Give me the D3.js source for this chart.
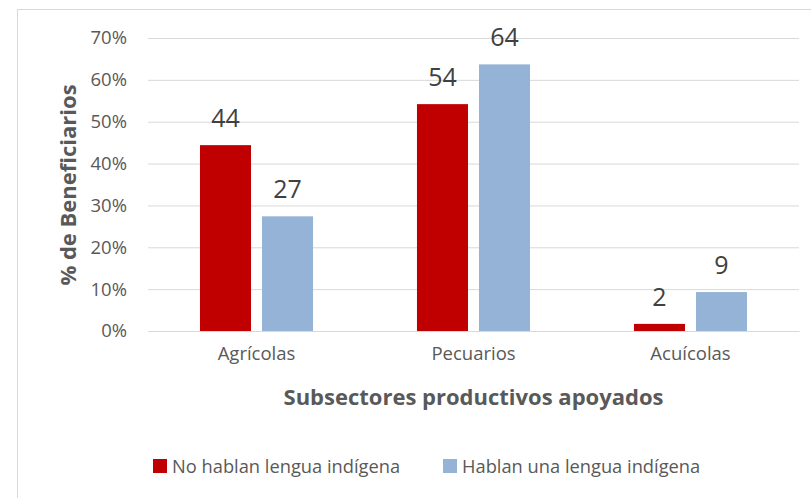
<html>
<head>
  <meta charset="UTF-8">
  <title>Subsectores productivos apoyados</title>
  <script src="https://cdn.jsdelivr.net/npm/d3@7"></script>
  <style>
    body { margin: 0; background: #fff; }
    text { font-family: "Open Sans", sans-serif; }
  </style>
</head>
<body>
  <div id="chart"></div>
  <script>
  // data
  var categories = ["Agrícolas", "Pecuarios", "Acuícolas"];
  var series = ["No hablan lengua indígena", "Hablan una lengua indígena"];
  var noHablan = [44.4, 54.2, 1.7];
  var hablan = [27.4, 63.7, 9.3];
  var yTicks = [0, 10, 20, 30, 40, 50, 60, 70];
  var colors = ["#C00000", "#95B3D7"];

  var W = 811, H = 498;
  var plotL = 148, plotR = 799, plotT = 38, plotB = 331;

  var svg = d3.select("#chart").append("svg")
    .attr("width", W).attr("height", H);

  // chart frame
  svg.append("rect")
    .attr("x", 17.5).attr("y", 9.5)
    .attr("width", W).attr("height", H)
    .attr("fill", "none").attr("stroke", "#D9D9D9");

  var y = d3.scaleLinear().domain([0, 70]).range([plotB, plotT]);
  var x0 = d3.scaleBand().domain(categories).range([plotL, plotR])
    .paddingInner(0.479).paddingOuter(0.2395);
  var x1 = d3.scaleBand().domain(series).range([0, x0.bandwidth()])
    .paddingInner(0.1774);

  // y axis with gridlines
  var yAxis = svg.append("g")
    .attr("transform", "translate(" + plotL + ",0)")
    .call(d3.axisLeft(y).tickValues(yTicks)
      .tickSize(-(plotR - plotL)).tickPadding(21)
      .tickFormat(function (d) { return d + "%"; }));
  yAxis.select(".domain").remove();
  yAxis.selectAll("line").attr("stroke", "#D9D9D9");
  yAxis.selectAll("text")
    .attr("fill", "#595959").style("font-size", "18.5px")
    .style("font-family", "'Open Sans', sans-serif");

  // bars
  var rows = categories.map(function (c, i) {
    return { cat: c, vals: [noHablan[i], hablan[i]] };
  });
  var groups = svg.selectAll(".grp").data(rows).enter().append("g")
    .attr("class", "grp")
    .attr("transform", function (d) { return "translate(" + x0(d.cat) + ",0)"; });

  groups.selectAll("rect").data(function (d) {
      return d.vals.map(function (v, j) { return { s: series[j], v: v, j: j }; });
    }).enter().append("rect")
    .attr("x", function (d) { return x1(d.s); })
    .attr("y", function (d) { return y(d.v); })
    .attr("width", x1.bandwidth())
    .attr("height", function (d) { return plotB - y(d.v); })
    .attr("fill", function (d) { return colors[d.j]; });

  groups.selectAll(".lbl").data(function (d) {
      return d.vals.map(function (v, j) { return { s: series[j], v: v }; });
    }).enter().append("text")
    .attr("class", "lbl")
    .attr("x", function (d) { return x1(d.s) + x1.bandwidth() / 2; })
    .attr("y", function (d) { return y(d.v) - 18; })
    .attr("text-anchor", "middle")
    .attr("fill", "#404040")
    .style("font-size", "25px")
    .text(function (d) { return d3.format(".0f")(d.v); });

  // x axis
  var xAxis = svg.append("g")
    .attr("transform", "translate(0," + plotB + ")")
    .call(d3.axisBottom(x0).tickSize(0).tickPadding(16));
  xAxis.select(".domain").attr("stroke", "#D9D9D9");
  xAxis.selectAll("text")
    .attr("fill", "#595959").style("font-size", "18.5px")
    .style("font-family", "'Open Sans', sans-serif");

  // axis titles
  svg.append("text")
    .attr("x", (plotL + plotR) / 2).attr("y", 405)
    .attr("text-anchor", "middle")
    .attr("fill", "#595959")
    .style("font-size", "22px").style("font-weight", "bold")
    .text("Subsectores productivos apoyados");

  svg.append("text")
    .attr("transform", "translate(76,185) rotate(-90)")
    .attr("text-anchor", "middle")
    .attr("fill", "#595959")
    .style("font-size", "22px").style("font-weight", "bold")
    .text("% de Beneficiarios");

  // legend
  var legendX = [153, 443];
  var leg = svg.selectAll(".leg").data(series).enter().append("g")
    .attr("class", "leg")
    .attr("transform", function (d, i) { return "translate(" + legendX[i] + ",459)"; });
  leg.append("rect")
    .attr("width", 14).attr("height", 14)
    .attr("fill", function (d, i) { return colors[i]; });
  leg.append("text")
    .attr("x", 19).attr("y", 14)
    .attr("fill", "#595959")
    .style("font-size", "18.3px")
    .text(function (d) { return d; });
  </script>
</body>
</html>
